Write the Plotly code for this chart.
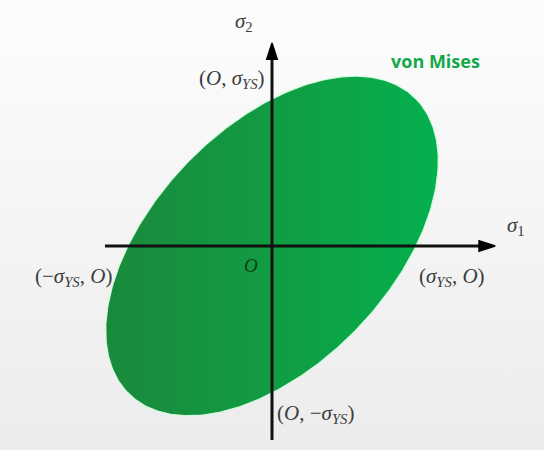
import numpy as np
import plotly.graph_objects as go

# Yield strength (normalised) and the points where the von Mises locus meets the axes
SIGMA_YS = 1.0
intercept_x = [SIGMA_YS, -SIGMA_YS]   # on the sigma_1 axis
intercept_y = [SIGMA_YS, -SIGMA_YS]   # on the sigma_2 axis

# Axis extents (in units of sigma_YS)
x_axis_ends = [-1.16, 1.55]
y_axis_ends = [-1.32, 1.38]
x_range = [-1.889, 1.889]
y_range = [-1.388, 1.673]

# von Mises locus: s1^2 - s1*s2 + s2^2 = sigma_YS^2
# principal form: u^2/2 + 3 v^2/2 = sigma_YS^2 with u, v rotated 45 degrees
theta = np.linspace(0, 2 * np.pi, 361)
u = np.sqrt(2.0) * SIGMA_YS * np.cos(theta)
v = np.sqrt(2.0 / 3.0) * SIGMA_YS * np.sin(theta)
s1 = (u - v) / np.sqrt(2.0)
s2 = (u + v) / np.sqrt(2.0)

fig = go.Figure()

# soft grey backdrop, lighter at the top
fig.add_trace(go.Scatter(
    x=[x_range[0], x_range[1], x_range[1], x_range[0], x_range[0]],
    y=[y_range[0], y_range[0], y_range[1], y_range[1], y_range[0]],
    mode="lines", line=dict(width=0), fill="toself",
    fillgradient=dict(type="vertical",
                      colorscale=[[0, "#ececec"], [1, "#fdfdfd"]]),
    hoverinfo="skip", showlegend=False,
))

# yield surface
fig.add_trace(go.Scatter(
    x=s1, y=s2, mode="lines",
    line=dict(color="rgba(215,255,225,0.9)", width=1.2),
    fill="toself",
    fillgradient=dict(type="horizontal",
                      colorscale=[[0, "#1a893c"], [0.5, "#119c43"], [1, "#04b04e"]]),
    hoverinfo="skip", showlegend=False,
))

# principal stress axes, arrow head at the positive end
arrow_marker = dict(symbol="arrow", size=[0, 17], angleref="previous", opacity=1,
                    color="#000000", line=dict(width=1.5, color="#000000"))
fig.add_trace(go.Scatter(
    x=x_axis_ends, y=[0, 0], mode="lines+markers",
    line=dict(color="#111111", width=3), marker=arrow_marker,
    hoverinfo="skip", showlegend=False,
))
fig.add_trace(go.Scatter(
    x=[0, 0], y=y_axis_ends, mode="lines+markers",
    line=dict(color="#111111", width=3), marker=arrow_marker,
    hoverinfo="skip", showlegend=False,
))

annotations = []
label_font = dict(family="Liberation Serif", size=21, color="#3c3c3c")

# axis titles
annotations.append(dict(x=x_axis_ends[1], y=0, xref="x", yref="y", showarrow=False,
                        text="<i>σ</i><sub>1</sub>", font=label_font,
                        xanchor="left", yanchor="bottom", xshift=10, yshift=5))
annotations.append(dict(x=0, y=y_axis_ends[1], xref="x", yref="y", showarrow=False,
                        text="<i>σ</i><sub>2</sub>", font=label_font,
                        xanchor="right", yanchor="bottom", xshift=-17, yshift=6))

# origin
annotations.append(dict(x=0, y=0, xref="x", yref="y", showarrow=False,
                        text="<i>O</i>", font=dict(family="Liberation Serif", size=19, color="#0b3d1a"),
                        xanchor="right", yanchor="top", xshift=-12, yshift=-7))

# intercept labels
annotations.append(dict(x=intercept_x[0], y=0, xref="x", yref="y", showarrow=False,
                        text="(<i>σ</i><sub><i>YS</i></sub>, <i>O</i>)", font=label_font,
                        xanchor="left", yanchor="top", xshift=1, yshift=-16))
annotations.append(dict(x=intercept_x[1], y=0, xref="x", yref="y", showarrow=False,
                        text="(−<i>σ</i><sub><i>YS</i></sub>, <i>O</i>)", font=label_font,
                        xanchor="right", yanchor="top", xshift=-14, yshift=-16))
annotations.append(dict(x=0, y=intercept_y[0], xref="x", yref="y", showarrow=False,
                        text="(<i>O</i>, <i>σ</i><sub><i>YS</i></sub>)", font=label_font,
                        xanchor="right", yanchor="middle", xshift=-5, yshift=20))
annotations.append(dict(x=0, y=intercept_y[1], xref="x", yref="y", showarrow=False,
                        text="(<i>O</i>, −<i>σ</i><sub><i>YS</i></sub>)", font=label_font,
                        xanchor="left", yanchor="middle", xshift=3, yshift=-21))

# criterion name
annotations.append(dict(x=0.80, y=0.865, xref="paper", yref="paper", showarrow=False,
                        text="<b>von Mises</b>",
                        font=dict(family="Open Sans", size=18, color="#14a84b"),
                        xanchor="center", yanchor="middle"))

fig.update_layout(
    width=544, height=450,
    margin=dict(l=0, r=0, t=0, b=0),
    paper_bgcolor="#f7f7f7", plot_bgcolor="#f7f7f7",
    xaxis=dict(range=x_range, visible=False, fixedrange=True),
    yaxis=dict(range=y_range, visible=False, fixedrange=True),
    annotations=annotations,
    showlegend=False,
)

fig.write_html("out.html")
